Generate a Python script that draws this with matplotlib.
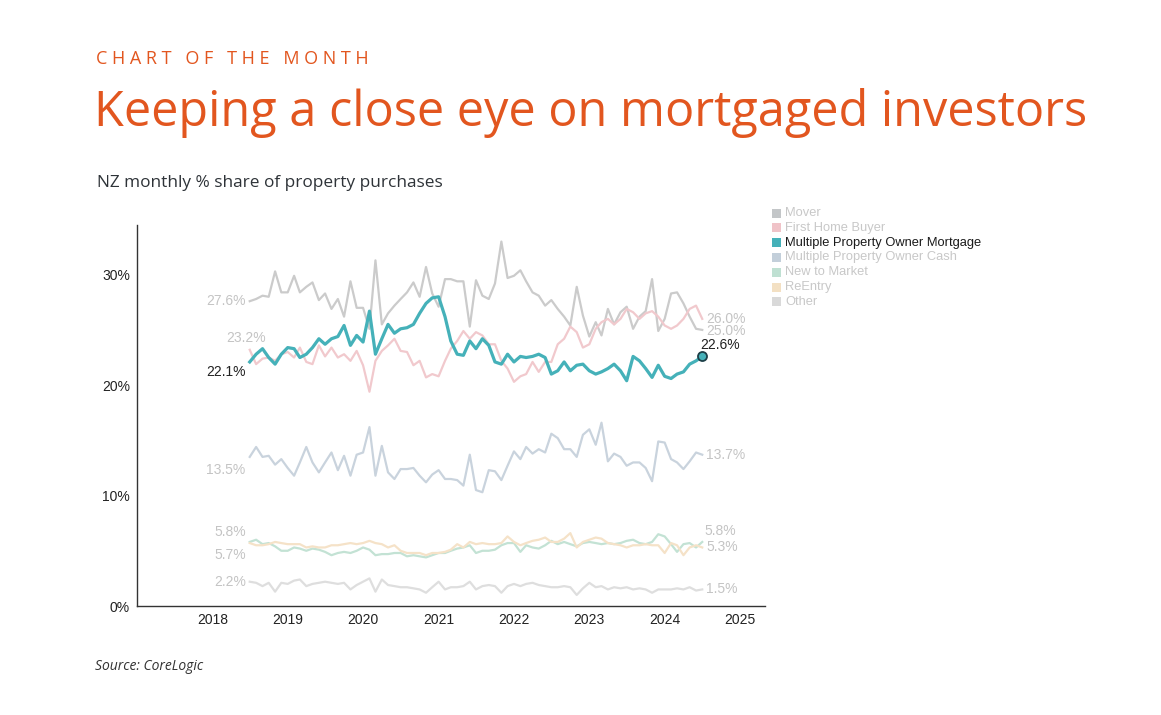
import matplotlib
matplotlib.use("Agg")
import matplotlib.pyplot as plt
import matplotlib.dates as mdates
from matplotlib.patches import Rectangle
import pandas as pd

# monthly share of property purchases (%), Jul 2018 - Jul 2024
months = pd.date_range("2018-07-01", "2024-07-01", freq="MS")

mover = [27.6, 27.8, 28.1, 28.0, 30.3, 28.4, 28.4, 29.9, 28.4, 28.9, 29.3, 27.7,
         28.3, 26.9, 27.8, 26.2, 29.4, 27.0, 27.0, 25.1, 31.3, 25.5, 26.5, 27.2,
         27.8, 28.4, 29.3, 28.0, 30.7, 28.3, 27.1, 29.6, 29.6, 29.4, 29.4, 25.3,
         29.5, 28.1, 27.8, 29.2, 33.0, 29.7, 29.9, 30.4, 29.4, 28.4, 28.1, 27.2,
         27.7, 26.9, 26.2, 25.4, 28.9, 26.3, 24.4, 25.7, 24.5, 26.9, 25.5, 26.6,
         27.1, 25.1, 26.2, 26.7, 29.6, 24.9, 26.0, 28.3, 28.4, 27.4, 26.2, 25.1,
         25.0]
first_home = [23.2, 21.9, 22.4, 22.5, 22.2, 22.8, 23.0, 22.5, 23.4, 22.1, 21.9, 23.6,
              22.6, 23.4, 22.5, 22.8, 22.2, 23.1, 21.8, 19.4, 22.2, 23.1, 23.6, 24.2,
              23.1, 23.0, 21.8, 22.2, 20.7, 21.0, 20.8, 22.2, 23.3, 24.0, 24.9, 24.2,
              24.8, 24.5, 23.7, 23.7, 22.2, 21.5, 20.3, 20.8, 21.0, 22.1, 21.2, 22.1,
              22.1, 23.7, 24.2, 25.3, 24.8, 23.4, 23.7, 25.1, 25.7, 26.0, 25.5, 26.0,
              26.9, 26.6, 26.0, 26.5, 26.7, 26.2, 25.4, 25.1, 25.4, 26.0, 26.9, 27.2,
              26.0]
mpo_mortgage = [22.1, 22.8, 23.3, 22.5, 21.9, 22.8, 23.4, 23.3, 22.5, 22.8, 23.4, 24.2,
                23.7, 24.2, 24.4, 25.4, 23.6, 24.5, 23.9, 26.7, 22.8, 24.2, 25.5, 24.7,
                25.1, 25.2, 25.5, 26.5, 27.4, 27.9, 28.0, 26.2, 24.0, 22.8, 22.7, 24.0,
                23.3, 24.2, 23.6, 22.1, 21.9, 22.8, 22.1, 22.6, 22.5, 22.6, 22.8, 22.5,
                21.0, 21.3, 22.1, 21.3, 21.8, 21.9, 21.3, 21.0, 21.2, 21.5, 21.9, 21.3,
                20.4, 22.6, 22.2, 21.5, 20.7, 21.8, 20.8, 20.6, 21.0, 21.2, 21.9, 22.2,
                22.6]
mpo_cash = [13.5, 14.4, 13.5, 13.6, 12.8, 13.3, 12.5, 11.8, 13.0, 14.4, 13.0, 12.1,
            13.0, 13.9, 12.3, 13.6, 11.8, 13.7, 13.9, 16.2, 11.8, 14.5, 12.1, 11.5,
            12.4, 12.4, 12.5, 11.8, 11.2, 11.9, 12.3, 11.5, 11.5, 11.4, 10.9, 13.7,
            10.5, 10.3, 12.3, 12.2, 11.4, 12.7, 14.0, 13.3, 14.4, 13.8, 14.2, 13.9,
            15.6, 15.2, 14.2, 14.2, 13.5, 15.5, 16.0, 14.6, 16.6, 13.1, 13.8, 13.5,
            12.7, 13.0, 13.0, 12.5, 11.3, 14.9, 14.8, 13.3, 13.0, 12.4, 13.1, 13.9,
            13.7]
new_to_market = [5.8, 6.0, 5.6, 5.7, 5.4, 5.0, 5.0, 5.3, 5.2, 5.0, 5.2, 5.1,
                 4.9, 4.6, 4.8, 4.9, 4.8, 5.0, 5.3, 5.1, 4.6, 4.7, 4.7, 4.8,
                 4.8, 4.5, 4.6, 4.5, 4.4, 4.6, 4.8, 4.8, 5.0, 5.2, 5.3, 5.5,
                 4.8, 5.0, 5.0, 5.1, 5.5, 5.7, 5.7, 4.9, 5.5, 5.3, 5.2, 5.5,
                 5.9, 5.6, 5.8, 5.6, 5.4, 5.7, 5.8, 5.7, 5.6, 5.7, 5.6, 5.7,
                 5.9, 6.0, 5.7, 5.6, 5.8, 6.5, 6.3, 5.6, 4.9, 5.6, 5.7, 5.3,
                 5.8]
reentry = [5.7, 5.5, 5.5, 5.6, 5.8, 5.7, 5.6, 5.6, 5.6, 5.3, 5.4, 5.3,
           5.3, 5.5, 5.5, 5.6, 5.7, 5.6, 5.7, 5.9, 5.7, 5.6, 5.3, 5.5,
           5.0, 4.8, 4.8, 4.8, 4.6, 4.8, 4.8, 4.9, 5.1, 5.6, 5.3, 5.8,
           5.6, 5.7, 5.6, 5.6, 5.7, 6.3, 5.8, 5.5, 5.7, 5.9, 6.0, 6.2,
           5.8, 5.8, 6.1, 6.6, 5.3, 5.8, 6.0, 6.2, 6.1, 5.7, 5.6, 5.5,
           5.3, 5.5, 5.5, 5.6, 5.5, 5.5, 4.8, 5.7, 5.5, 4.6, 5.3, 5.5,
           5.3]
other = [2.2, 2.1, 1.8, 2.1, 1.3, 2.1, 2.0, 2.3, 2.4, 1.8, 2.0, 2.1,
         2.2, 2.1, 2.0, 2.1, 1.5, 1.9, 2.2, 2.5, 1.3, 2.4, 1.9, 1.8,
         1.7, 1.7, 1.6, 1.5, 1.2, 1.7, 2.2, 1.5, 1.7, 1.7, 1.8, 2.2,
         1.5, 1.8, 1.9, 1.8, 1.2, 1.8, 2.0, 1.8, 2.0, 2.1, 1.9, 1.8,
         1.7, 1.7, 1.8, 1.7, 1.0, 1.6, 2.1, 1.7, 1.8, 1.5, 1.7, 1.6,
         1.7, 1.5, 1.6, 1.5, 1.2, 1.5, 1.5, 1.5, 1.6, 1.5, 1.7, 1.4,
         1.5]

series_names = ["Mover", "First Home Buyer", "Multiple Property Owner Mortgage",
                "Multiple Property Owner Cash", "New to Market", "ReEntry", "Other"]
series_values = [mover, first_home, mpo_mortgage, mpo_cash, new_to_market, reentry, other]
series_colors = ["#cbcbcb", "#f1c9cd", "#45b1b9", "#c9d3dd", "#c3e2d4", "#f5e2c8", "#dedede"]
legend_colors = ["#c3c6c8", "#f0c3c8", "#45b1b9", "#c3cfda", "#bfe0d2", "#f3e0c3", "#d9d9d9"]
HERO = "Multiple Property Owner Mortgage"

# label nudges in pixels (start dx, start dy, end dx, end dy)
label_nudge = {
    "Mover": (0, 0, 4, -1),
    "First Home Buyer": (20, 12, 4, 0),
    HERO: (0, -10, -2, 11),
    "Multiple Property Owner Cash": (0, -13, 4, 0),
    "New to Market": (0, 10, 2, 11),
    "ReEntry": (0, -12, 4, 0),
    "Other": (0, 0, 4, 0),
}

W, H = 1161, 715
fig = plt.figure(figsize=(W / 100, H / 100), dpi=100)
fig.patch.set_facecolor("white")

ax = fig.add_axes([137 / W, 1 - 606 / H, (765 - 137) / W, (606 - 225) / H])

tick_font = "Liberation Sans"
label_grey = "#c4c4c4"

for name, vals, col in zip(series_names, series_values, series_colors):
    if name == HERO:
        continue
    ax.plot(months, vals, color=col, lw=1.6, zorder=2)

ax.plot(months, mpo_mortgage, color=series_colors[2], lw=2.3, zorder=4)
ax.plot(months[-1], mpo_mortgage[-1], "o", ms=6.5, mfc="#45b1b9", mec="#1d3f48",
        mew=1.3, zorder=5)

for name, vals in zip(series_names, series_values):
    tc = "#222222" if name == HERO else label_grey
    sdx, sdy, edx, edy = label_nudge[name]
    ax.annotate(f"{vals[0]:.1f}%", (months[0], vals[0]), xytext=(-4 + sdx, sdy),
                textcoords="offset pixels", ha="right", va="center",
                fontsize=10, color=tc, family=tick_font, zorder=6)
    ax.annotate(f"{vals[-1]:.1f}%", (months[-1], vals[-1]), xytext=(edx, edy),
                textcoords="offset pixels", ha="left", va="center",
                fontsize=10, color=tc, family=tick_font, zorder=6)

ax.set_xlim(pd.Timestamp("2017-01-01"), pd.Timestamp("2025-05-01"))
ax.set_ylim(0, 34.5)
ax.set_xticks([pd.Timestamp(f"{y}-01-01") for y in range(2018, 2026)])
ax.xaxis.set_major_formatter(mdates.DateFormatter("%Y"))
ax.set_yticks([0, 10, 20, 30])
ax.set_yticklabels(["0%", "10%", "20%", "30%"])
ax.tick_params(length=0, labelsize=10, colors="#222222")
ax.tick_params(axis="x", pad=5)
ax.tick_params(axis="y", pad=5)
for lab in ax.get_xticklabels() + ax.get_yticklabels():
    lab.set_family(tick_font)
for s in ["top", "right"]:
    ax.spines[s].set_visible(False)
for s in ["left", "bottom"]:
    ax.spines[s].set_color("#333333")
    ax.spines[s].set_linewidth(1.0)

# legend drawn by hand, top right
for k, (name, col) in enumerate(zip(series_names, legend_colors)):
    y = 213 + k * 14.8
    fig.patches.append(Rectangle((772 / W, 1 - (y + 4.5) / H), 9 / W, 9 / H,
                                 transform=fig.transFigure, facecolor=col,
                                 edgecolor="none"))
    fig.text(785 / W, 1 - y / H, name, ha="left", va="center", fontsize=9.3,
             family=tick_font, color="#1a1a1a" if name == HERO else "#c8c8c8")

orange = "#e2561f"
fig.text(96 / W, 1 - 59 / H, "C H A R T   O F   T H E   M O N T H", ha="left",
         va="center", fontsize=13, color=orange, family="Open Sans")
fig.text(94 / W, 1 - 113 / H, "Keeping a close eye on mortgaged investors",
         ha="left", va="center", fontsize=35, color=orange, family="Open Sans")
fig.text(97 / W, 1 - 183 / H, "NZ monthly % share of property purchases",
         ha="left", va="center", fontsize=12.4, color="#2e3338", family="Open Sans")
fig.text(95 / W, 1 - 666 / H, "Source: CoreLogic", ha="left", va="center",
         fontsize=10, style="italic", color="#333333", family="Open Sans")

fig.savefig("out.png", dpi=100)
